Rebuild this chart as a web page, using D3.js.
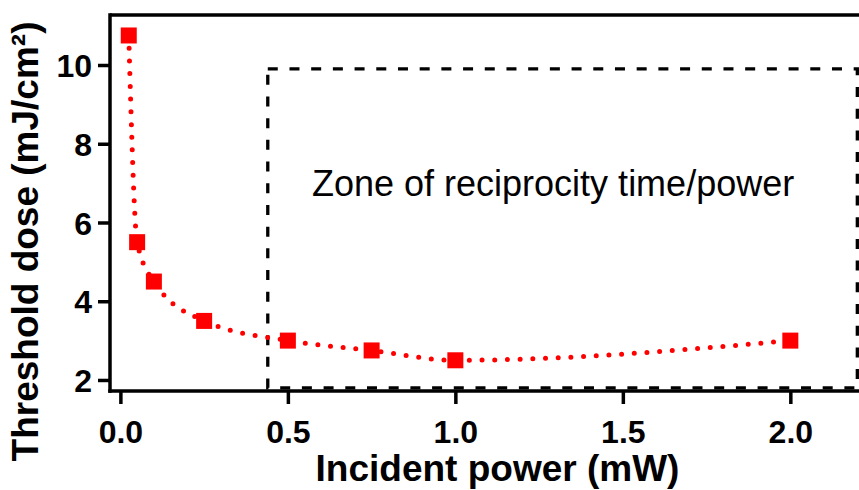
<!DOCTYPE html>
<html>
<head>
<meta charset="utf-8">
<script src="https://cdn.jsdelivr.net/npm/d3@7"></script>
<style>
  html, body { margin: 0; padding: 0; background: #fff; }
  svg { display: block; }
  text { font-family: "Liberation Sans", Arial, Helvetica, sans-serif; }
</style>
</head>
<body>
<svg id="chart" width="859" height="490"></svg>
<script>
// Measured threshold dose versus incident power
const power = [0.025, 0.05, 0.1, 0.25, 0.5, 0.75, 1.0, 2.0];          // mW
const dose  = [10.75, 5.5, 4.5, 3.5, 3.0, 2.75, 2.5, 3.0];            // mJ/cm²

const xTicks = [0, 0.5, 1.0, 1.5, 2.0];
const yTicks = [2, 4, 6, 8, 10];

// Reciprocity zone boundaries (data units)
const zoneX = [0.44, 2.2];
const zoneY = [1.8, 9.9];
const zoneLabel = ["Zone of reciprocity time/power"];

const xTitle = ["Incident power (mW)"];
const yTitle = ["Threshold dose (mJ/cm²)"];

const svg = d3.select("#chart");

const x = d3.scaleLinear().domain([-0.031, 2.205]).range([110, 859]);
const y = d3.scaleLinear().domain([1.72, 11.27]).range([391, 15]);

const axisW = 3.5;

// Reciprocity zone (dashed rectangle)
svg.append("rect")
  .attr("x", x(zoneX[0]))
  .attr("y", y(zoneY[1]))
  .attr("width", x(zoneX[1]) - x(zoneX[0]))
  .attr("height", y(zoneY[0]) - y(zoneY[1]))
  .attr("fill", "none")
  .attr("stroke", "#000")
  .attr("stroke-width", 3.3)
  .attr("stroke-dasharray", "10 11.7");

svg.append("text")
  .attr("x", 312)
  .attr("y", 195.5)
  .attr("font-size", 36)
  .attr("fill", "#000")
  .text(zoneLabel[0]);

// Frame lines
const frame = svg.append("g").attr("stroke", "#000").attr("stroke-width", axisW).attr("fill", "none");
frame.append("line").attr("x1", x.range()[0]).attr("x2", x.range()[1]).attr("y1", y.range()[1]).attr("y2", y.range()[1]);
frame.append("line").attr("x1", x.range()[0]).attr("x2", x.range()[0]).attr("y1", y.range()[1] - axisW / 2).attr("y2", y.range()[0] + axisW / 2);
frame.append("line").attr("x1", x.range()[0] - axisW / 2).attr("x2", x.range()[1]).attr("y1", y.range()[0]).attr("y2", y.range()[0]);

// Axes
const xAxis = svg.append("g")
  .attr("transform", `translate(0,${y.range()[0]})`)
  .call(d3.axisBottom(x).tickValues(xTicks).tickFormat(d3.format(".1f")).tickSize(13).tickSizeOuter(0));
xAxis.select(".domain").remove();
xAxis.selectAll(".tick line").attr("stroke", "#000").attr("stroke-width", axisW);
xAxis.selectAll(".tick text")
  .attr("y", 52).attr("dy", null)
  .attr("font-size", 32).attr("font-weight", "bold").attr("fill", "#000")
  .style("font-family", "'Liberation Sans', Arial, sans-serif");

const yAxis = svg.append("g")
  .attr("transform", `translate(${x.range()[0]},0)`)
  .call(d3.axisLeft(y).tickValues(yTicks).tickFormat(d3.format("d")).tickSize(12).tickSizeOuter(0));
yAxis.select(".domain").remove();
yAxis.selectAll(".tick line").attr("stroke", "#000").attr("stroke-width", axisW);
yAxis.selectAll(".tick text")
  .attr("x", -18).attr("dy", "0.36em")
  .attr("font-size", 32).attr("font-weight", "bold").attr("fill", "#000")
  .style("font-family", "'Liberation Sans', Arial, sans-serif");

// Axis titles
svg.append("text")
  .attr("x", 497.5)
  .attr("y", 481)
  .attr("text-anchor", "middle")
  .attr("font-size", 37)
  .attr("font-weight", "bold")
  .text(xTitle[0]);

svg.append("text")
  .attr("transform", "translate(38,241.5) rotate(-90)")
  .attr("text-anchor", "middle")
  .attr("font-size", 37)
  .attr("font-weight", "bold")
  .text(yTitle[0]);

// Dotted connecting curve
const pts = power.map((p, i) => [p, dose[i]]);
const line = d3.line().x(d => x(d[0])).y(d => y(d[1])).curve(d3.curveMonotoneX);
svg.append("path")
  .attr("d", line(pts))
  .attr("fill", "none")
  .attr("stroke", "#ff0000")
  .attr("stroke-width", 5)
  .attr("stroke-linecap", "round")
  .attr("stroke-dasharray", "0 12.7");

// Square markers
const size = 16;
svg.append("g").selectAll("rect")
  .data(pts)
  .join("rect")
  .attr("x", d => x(d[0]) - size / 2)
  .attr("y", d => y(d[1]) - size / 2)
  .attr("width", size)
  .attr("height", size)
  .attr("fill", "#ff0000");
</script>
</body>
</html>
